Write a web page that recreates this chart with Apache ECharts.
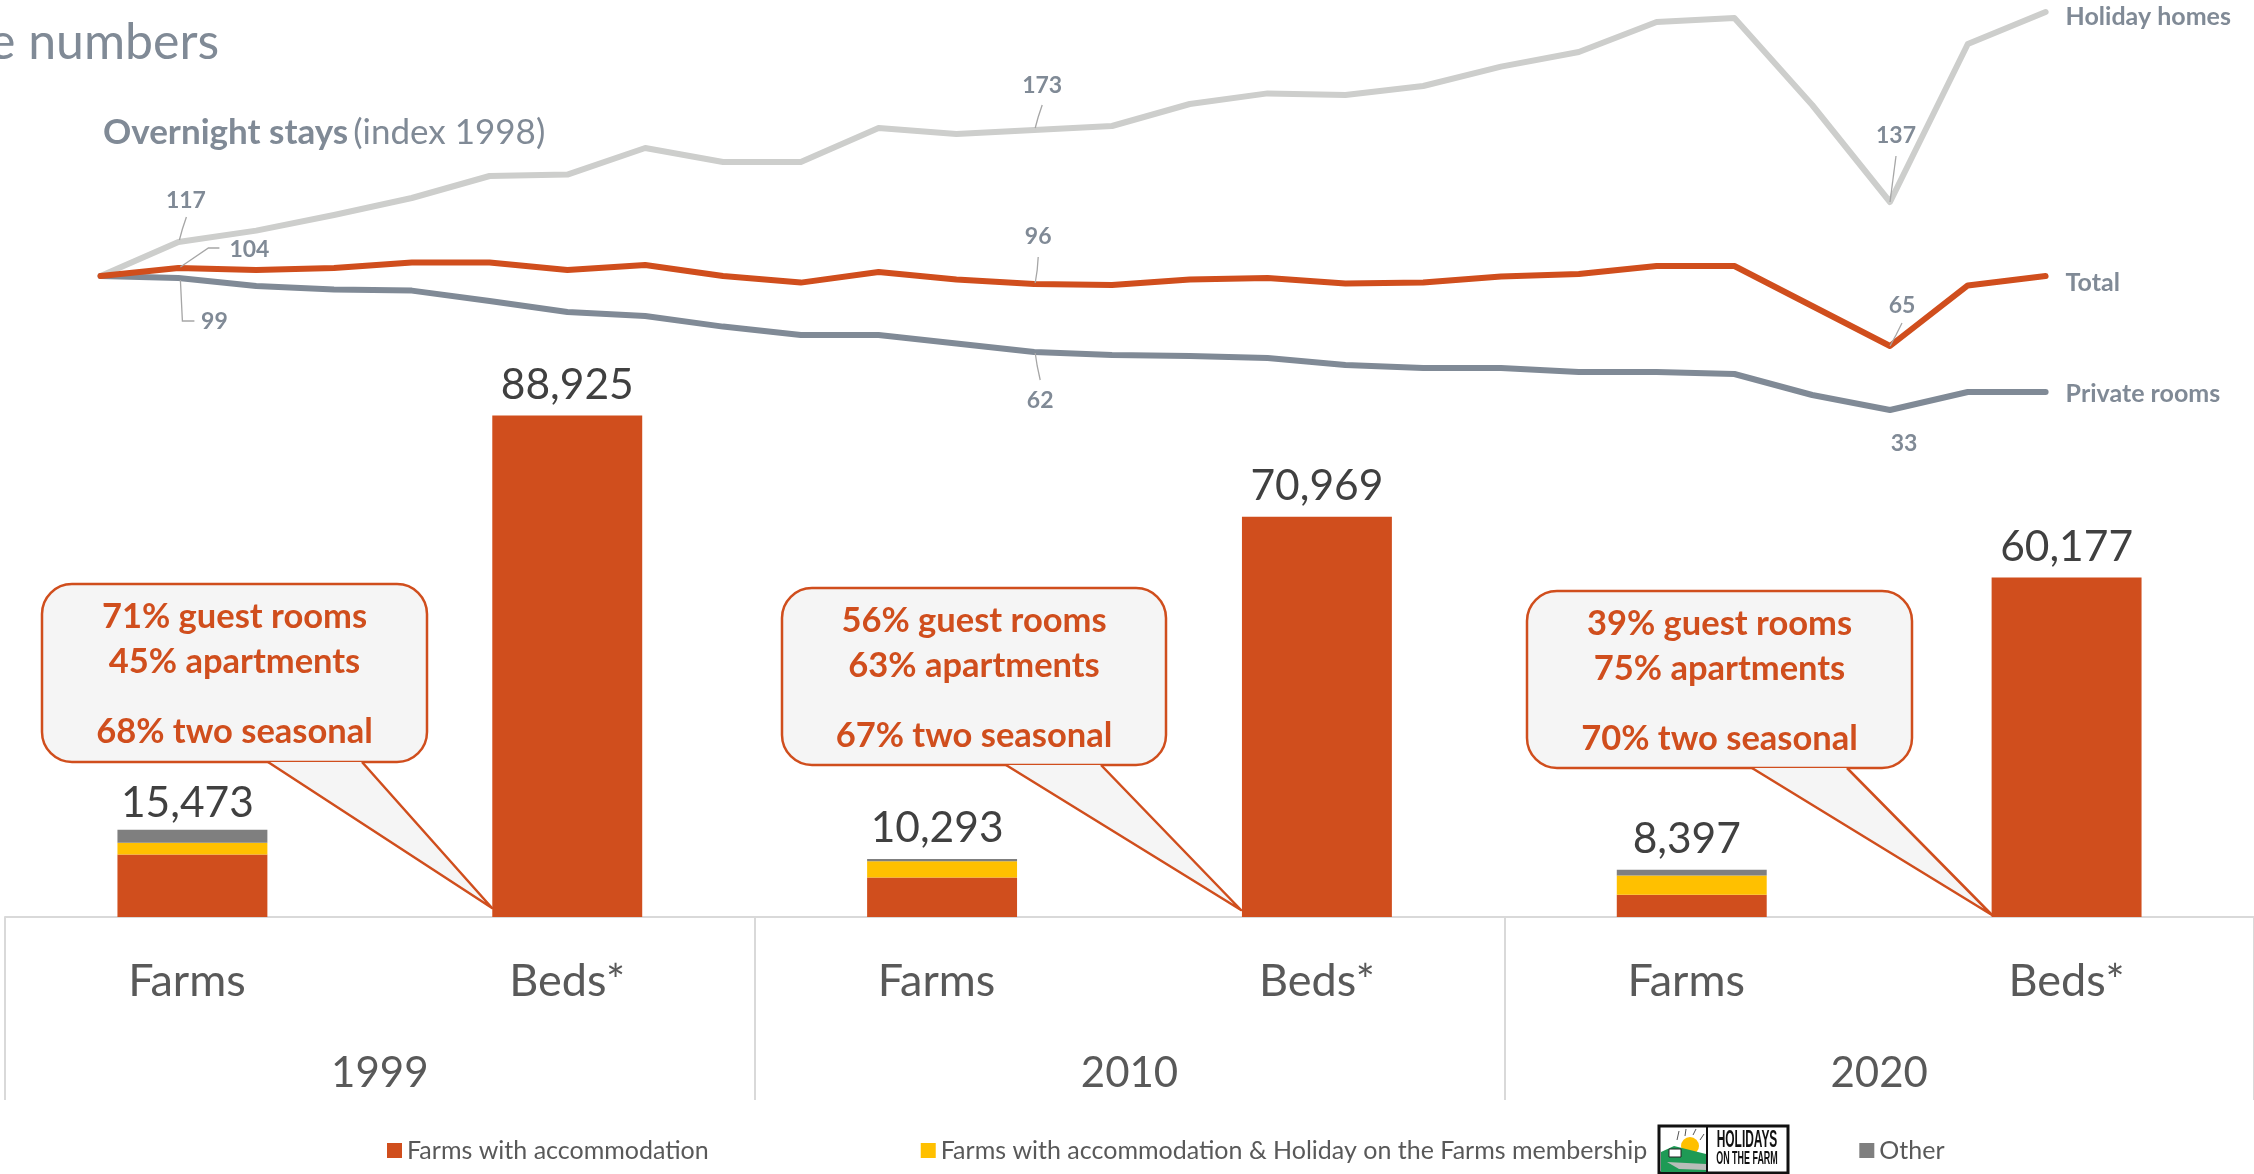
<!DOCTYPE html>
<html>
<head>
<meta charset="utf-8">
<title>Farm stays in numbers</title>
<script src="https://cdn.jsdelivr.net/npm/echarts@6/dist/echarts.min.js"></script>
<style>
    html, body { margin: 0; padding: 0; background: #fff; overflow: hidden; }
    #chart { width: 2254px; height: 1174px; }
</style>
</head>
<body>
<div id="chart"></div>
<script>
const lineYears = ['1996', '1997', '1998', '1999', '2000', '2001', '2002', '2003', '2004', '2005', '2006', '2007', '2008',
    '2009', '2010', '2011', '2012', '2013', '2014', '2015', '2016', '2017', '2018', '2019', '2020', '2021'];
const holidayHomes = [100, 117, 122.7, 130.5, 139, 150, 150.7, 164, 157, 157, 174, 171, 173,
    175, 186, 191.3, 190.5, 195, 204.7, 212, 227, 229, 185.5, 137, 216, 232];
const total = [100, 104, 103, 104, 106.7, 106.7, 103, 105.5, 100, 96.7, 102, 98.3, 96,
    95.5, 98.3, 99, 96.3, 96.8, 99.7, 101, 105, 105, 85, 65, 95.3, 100];
const privateRooms = [100, 99, 95, 93.3, 92.7, 87.5, 82, 80, 74.7, 70.5, 70.5, 66.3, 62,
    60.5, 60, 59, 55.5, 54, 54, 52, 52, 51, 40.5, 33, 42, 42];

const barCategories = ['Farms', 'Beds*', 'Farms', 'Beds*', 'Farms', 'Beds*'];
const yearLabels = ['1999', '2010', '2020'];
const farmsWithAccommodation = [11083, 88925, 6982, 70969, 3927, 60177];
const farmsWithMembership = [2090, 0, 2889, 0, 3443, 0];
const farmsOther = [2300, 0, 422, 0, 1027, 0];
const barTotals = [15473, 88925, 10293, 70969, 8397, 60177];

const calloutLines = [
    ['71% guest rooms', '45% apartments', '68% two seasonal'],
    ['56% guest rooms', '63% apartments', '67% two seasonal'],
    ['39% guest rooms', '75% apartments', '70% two seasonal'],
];

const ORANGE = '#D04E1D';
const YELLOW = '#FFC000';
const GREY = '#7F7F7F';
const SLATE = '#808A96';
const LIGHT = '#CDCECC';
const FONT = 'Lato';

function lineSeries(name, values, color, endDy, z) {
    return {
        type: 'line',
        name: name,
        data: values,
        xAxisIndex: 0,
        yAxisIndex: 0,
        symbol: 'none',
        silent: true,
        z: z,
        lineStyle: {color: color, width: 6, cap: 'round', join: 'round'},
        endLabel: {
            show: true,
            formatter: name,
            fontFamily: FONT,
            fontWeight: 'bold',
            fontSize: 25,
            color: SLATE,
            distance: 20,
            offset: [0, endDy],
        },
    };
}

// value labels of a few points, each with its leader line.
// marks: dataIndex -> {at: label centre from the point, leader: offsets from the point}
function pointLabels(values, marks) {
    return {
        type: 'custom',
        coordinateSystem: 'cartesian2d',
        xAxisIndex: 0,
        yAxisIndex: 0,
        silent: true,
        z: 6,
        data: Object.keys(marks).map(i => [Number(i), values[i]]),
        encode: {x: 0, y: 1},
        renderItem: (params, api) => {
            const point = api.coord([api.value(0), api.value(1)]);
            const m = marks[api.value(0)];
            const children = [{
                type: 'text',
                x: point[0] + m.at[0],
                y: point[1] + m.at[1],
                style: {
                    text: String(api.value(1)),
                    fill: SLATE,
                    font: `bold 23px ${FONT}`,
                    align: 'center',
                    verticalAlign: 'middle',
                },
            }];
            if (m.leader) {
                children.push({
                    type: 'polyline',
                    shape: {points: m.leader.map(o => [point[0] + o[0], point[1] + o[1]])},
                    style: {fill: 'none', stroke: '#A6A6A6', lineWidth: 1.3},
                });
            }
            return {type: 'group', children: children};
        },
    };
}

function barSeries(name, values, color) {
    return {
        type: 'bar',
        name: name,
        stack: 'farms',
        data: values,
        xAxisIndex: 1,
        yAxisIndex: 1,
        barWidth: '40%',
        itemStyle: {color: color},
    };
}

// speech bubble with its tail running down to the foot of the beds bar
function callout(x, y, w, h, tailA, tailB, tipX, tipY, lines) {
    const bottom = y + h;
    const offsets = [33, 78, 148];
    const out = [
        {
            type: 'rect',
            z: 20,
            shape: {x: x, y: y, width: w, height: h, r: 30},
            style: {fill: '#F5F5F5', stroke: ORANGE, lineWidth: 2.5},
        },
        {
            type: 'polygon',
            z: 21,
            shape: {points: [[tailA, bottom], [tipX, tipY], [tailB, bottom]]},
            style: {fill: '#F5F5F5'},
        },
        {
            type: 'polyline',
            z: 22,
            shape: {points: [[tailA, bottom], [tipX, tipY], [tailB, bottom]]},
            style: {fill: 'none', stroke: ORANGE, lineWidth: 2.5, lineJoin: 'round'},
        },
    ];
    lines.forEach((t, i) => out.push({
        type: 'text',
        z: 23,
        x: x + w / 2,
        y: y + offsets[i],
        style: {
            text: t,
            fill: ORANGE,
            font: `bold 34.5px ${FONT}`,
            align: 'center',
            verticalAlign: 'middle',
        },
    }));
    return out;
}

// small drawn copy of the Holidays on the Farm badge
function logo(x, y) {
    const rays = [[18, 14, 20, 5], [26, 10, 27, 3], [34, 9, 37, 3], [41, 14, 45, 8]];
    const narrow = {fill: '#111', align: 'center', verticalAlign: 'middle'};
    return [
        {type: 'rect', z: 10, shape: {x: x, y: y, width: 129, height: 47}, style: {fill: '#fff', stroke: '#111', lineWidth: 3}},
        {type: 'circle', z: 11, shape: {cx: x + 31, cy: y + 20, r: 9}, style: {fill: '#FFC000'}},
        ...rays.map(r => ({type: 'line', z: 11, shape: {x1: x + r[0], y1: y + r[1], x2: x + r[2], y2: y + r[3]}, style: {stroke: '#555', lineWidth: 1}})),
        {type: 'polygon', z: 11, shape: {points: [[x + 2, y + 26], [x + 15, y + 20], [x + 47, y + 28], [x + 47, y + 46], [x + 2, y + 46]]}, style: {fill: '#1E9A55'}},
        {type: 'polygon', z: 12, shape: {points: [[x + 8, y + 36], [x + 47, y + 38], [x + 47, y + 44], [x + 20, y + 43]]}, style: {fill: '#B9BDB9'}},
        {type: 'rect', z: 12, shape: {x: x + 10, y: y + 23, width: 12, height: 8}, style: {fill: '#fff', stroke: '#222', lineWidth: 1}},
        {type: 'line', z: 12, shape: {x1: x + 48, y1: y, x2: x + 48, y2: y + 47}, style: {stroke: '#111', lineWidth: 2}},
        {type: 'text', z: 12, x: x + 88, y: y + 15, scaleX: 0.52, style: {...narrow, text: 'HOLIDAYS', font: 'bold 23px "Liberation Sans"'}},
        {type: 'text', z: 12, x: x + 88, y: y + 33, scaleX: 0.47, style: {...narrow, text: 'ON THE FARM', font: 'bold 19px "Liberation Sans"'}},
    ];
}

const chart = echarts.init(document.getElementById('chart'), null, {renderer: 'canvas'});

chart.setOption({
    animation: false,
    backgroundColor: '#fff',
    title: [
        {
            text: 'e numbers',
            left: -16,
            top: 13,
            textStyle: {fontFamily: FONT, fontWeight: 'normal', fontSize: 50, color: SLATE},
        },
        {
            text: '{b|Overnight stays} {r|(index 1998)}',
            left: 98,
            top: 110,
            textStyle: {
                rich: {
                    b: {fontFamily: FONT, fontWeight: 'bold', fontSize: 35, color: SLATE},
                    r: {fontFamily: FONT, fontWeight: 'normal', fontSize: 35, color: SLATE},
                },
            },
        },
    ],
    legend: {
        left: 387,
        top: 1138,
        padding: 0,
        itemWidth: 15,
        itemHeight: 15,
        itemGap: 212,
        icon: 'rect',
        selectedMode: false,
        textStyle: {fontFamily: FONT, fontSize: 25, color: '#595959'},
        data: ['Farms with accommodation', 'Farms with accommodation & Holiday on the Farms membership', 'Other'],
    },
    grid: [
        {left: 100.6, width: 1945, top: 6, height: 430},
        {left: 5, width: 2250, top: 400, height: 517},
    ],
    xAxis: [
        {
            type: 'category',
            gridIndex: 0,
            data: lineYears,
            boundaryGap: false,
            show: false,
        },
        {
            type: 'category',
            gridIndex: 1,
            data: barCategories.map(c => c === 'Farms' ? {value: c, textStyle: {padding: [0, 11, 0, 0]}} : c),
            axisLine: {lineStyle: {color: '#D9D9D9', width: 2}},
            axisTick: {show: true, length: 183, interval: i => i % 2 === 0, lineStyle: {color: '#D9D9D9', width: 2}},
            axisLabel: {
                interval: 0,
                margin: 42,
                fontFamily: FONT,
                fontSize: 45,
                color: '#595959',
            },
        },
        {
            type: 'category',
            gridIndex: 1,
            position: 'bottom',
            data: yearLabels,
            axisLine: {show: false},
            axisTick: {show: false},
            axisLabel: {
                interval: 0,
                margin: 135,
                fontFamily: FONT,
                fontSize: 42,
                color: '#595959',
            },
        },
    ],
    yAxis: [
        {type: 'value', gridIndex: 0, min: 20, max: 235, show: false},
        {type: 'value', gridIndex: 1, min: 0, max: 91667, show: false},
    ],
    series: [
        lineSeries('Holiday homes', holidayHomes, LIGHT, 5, 2),
        lineSeries('Private rooms', privateRooms, SLATE, 2, 3),
        lineSeries('Total', total, ORANGE, 7, 4),
        pointLabels(holidayHomes, {
            1: {at: [7.5, -41], leader: [[1, -2], [4, -13], [8, -25]]},
            12: {at: [8, -44], leader: [[1, -2], [4, -13], [8, -25]]},
            23: {at: [6, -66], leader: [[0, 0], [3, -23], [6, -46]]},
        }),
        pointLabels(privateRooms, {
            1: {at: [36, 44], leader: [[2, 2], [4, 43], [16, 43]]},
            12: {at: [6, 49], leader: [[1, 1], [3, 14], [6, 28]]},
            23: {at: [14, 34]},
        }),
        pointLabels(total, {
            1: {at: [71, -18], leader: [[2, -1], [30, -20], [41, -20]]},
            12: {at: [4, -47], leader: [[1, -1], [3, -14], [4, -27]]},
            23: {at: [12, -40], leader: [[0, 0], [6, -11], [12, -23]]},
        }),
        barSeries('Farms with accommodation', farmsWithAccommodation, ORANGE),
        barSeries('Farms with accommodation & Holiday on the Farms membership', farmsWithMembership, YELLOW),
        barSeries('Other', farmsOther, GREY),
        {
            type: 'line',
            name: 'totals',
            // the Farms totals sit a little left of their bars, the first one closer to the bar
            data: barTotals.map((v, i) => i % 2 === 0 ? {value: v, label: {offset: [-5, i === 0 ? 4 : 0]}} : v),
            xAxisIndex: 1,
            yAxisIndex: 1,
            // size 0 symbols: the labels hang off them, without a symbol they never draw
            symbol: 'circle',
            symbolSize: 0,
            showSymbol: true,
            showAllSymbol: true,
            silent: true,
            lineStyle: {opacity: 0},
            label: {
                show: true,
                position: 'top',
                distance: 9,
                fontFamily: FONT,
                fontSize: 42.5,
                color: '#404040',
                formatter: p => p.value.toLocaleString('en-US'),
            },
        },
    ],
    graphic: [
        ...callout(42, 584, 385, 178, 268, 362, 492, 908, calloutLines[0]),
        ...callout(782, 588, 384, 177, 1006, 1101, 1241, 910, calloutLines[1]),
        ...callout(1527, 591, 385, 177, 1752, 1847, 1992, 915, calloutLines[2]),
        ...logo(1659, 1126),
    ],
});
</script>
</body>
</html>
